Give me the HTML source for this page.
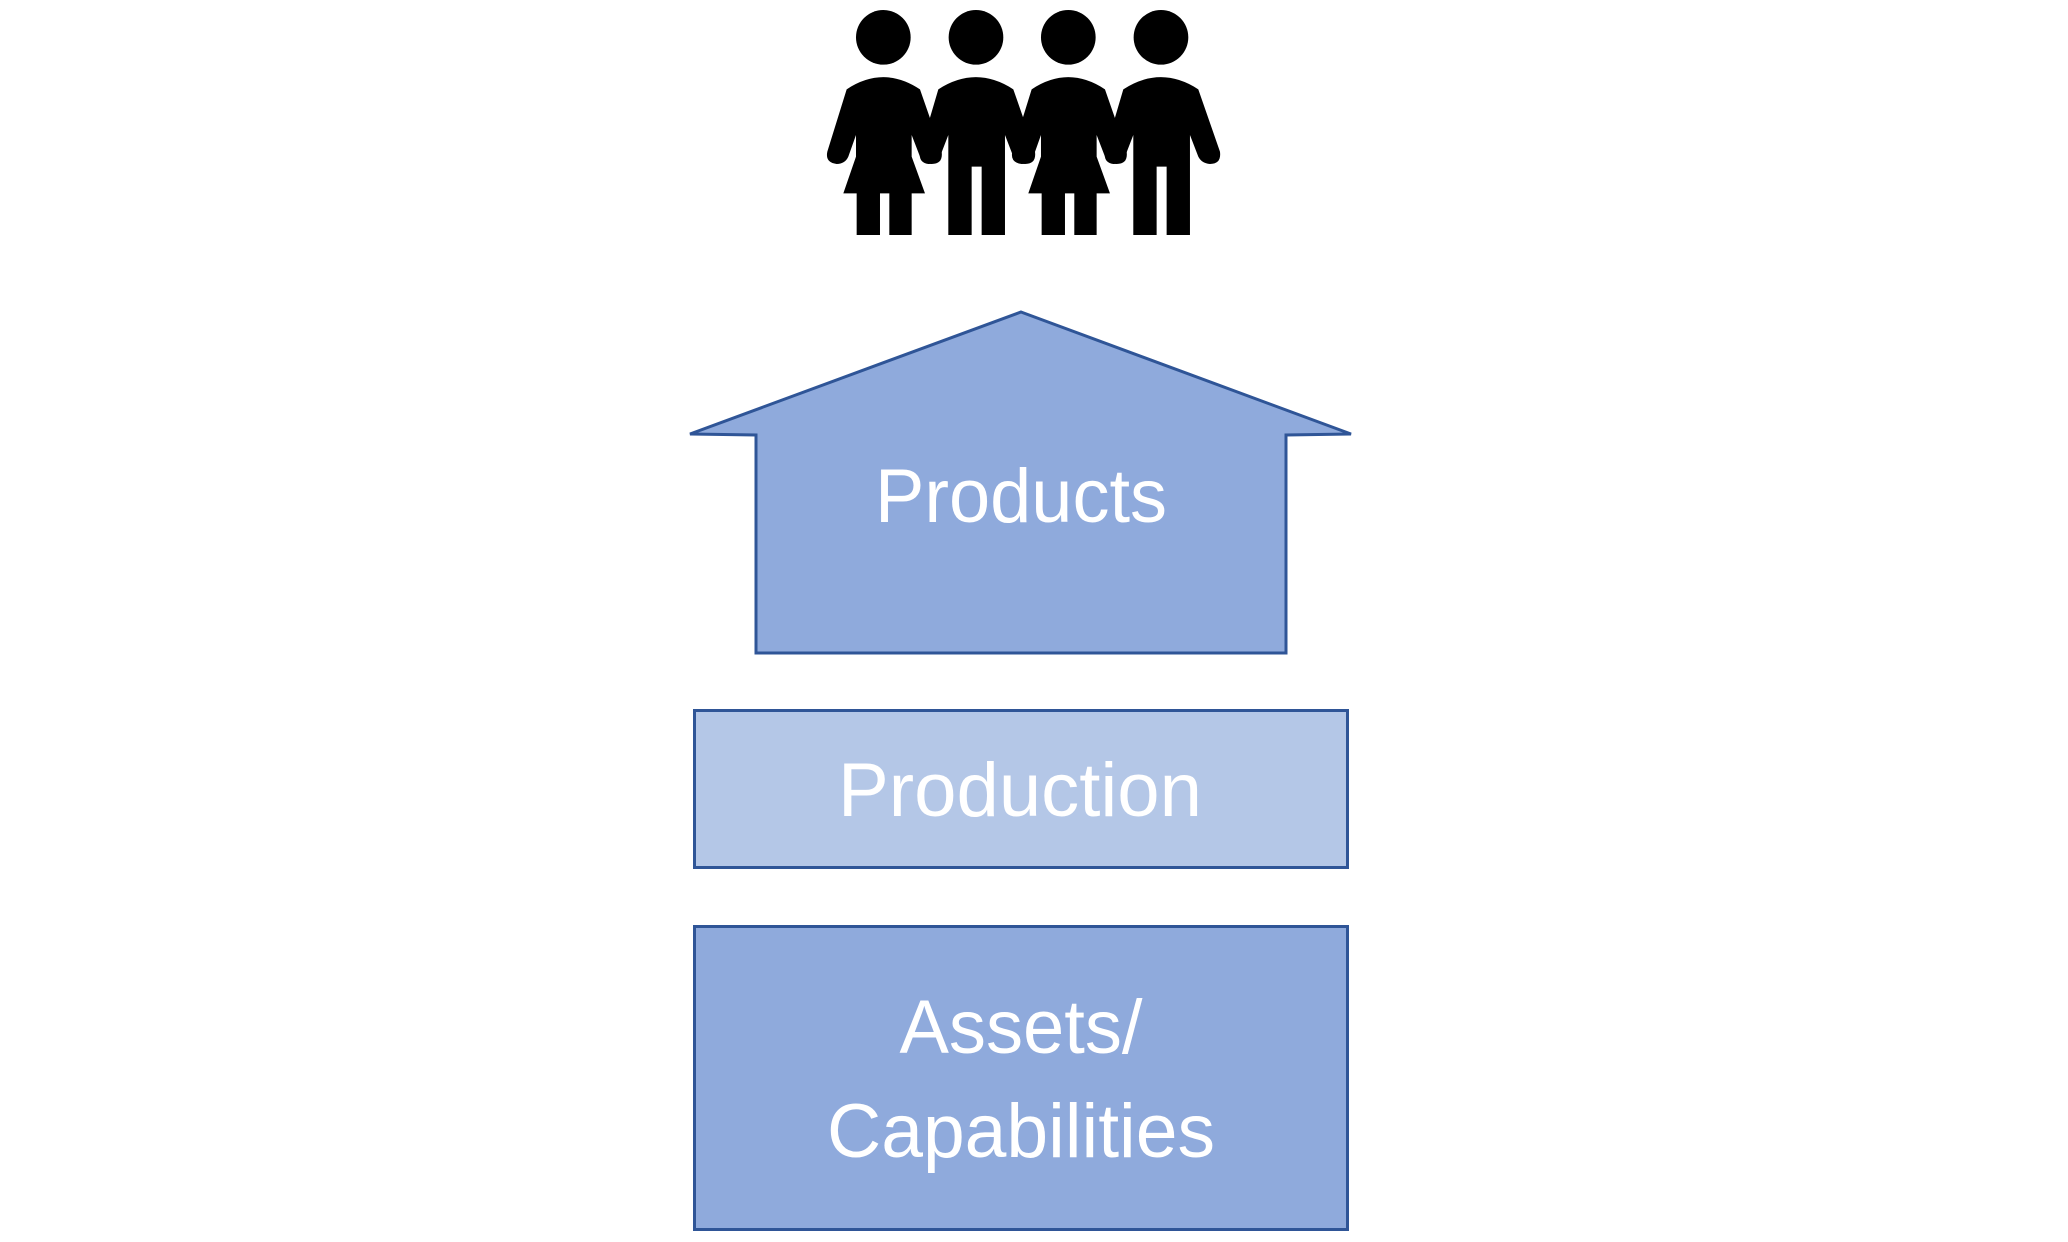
<!DOCTYPE html>
<html><head><meta charset="utf-8"><style>
html,body{margin:0;padding:0;background:#fff;}
svg{display:block;}
</style></head><body>
<svg width="2068" height="1242" viewBox="0 0 2068 1242" xmlns="http://www.w3.org/2000/svg">
<g transform="translate(800,0) scale(0.3333)" fill="#000">
  <circle cx="250" cy="112" r="82"/>
  <circle cx="528" cy="112" r="82"/>
  <circle cx="805" cy="112" r="82"/>
  <circle cx="1083" cy="112" r="82"/>
  <path d="M140,268 Q250,195 360,268 L425,455 Q430,492 395,492 Q370,490 360,470 L335,405 L335,470 L375,580 L335,580 L335,705 L268,705 L268,580 L240,580 L240,705 L170,705 L170,580 L130,580 L168,470 L168,405 L145,470 Q135,492 110,492 Q75,488 82,455 Z"/>
  <path d="M415,268 Q528,195 640,268 L705,455 Q710,492 675,492 Q650,490 640,470 L615,405 L615,705 L545,705 L545,500 L515,500 L515,705 L445,705 L445,405 L420,470 Q410,492 385,492 Q355,488 360,455 Z"/>
  <g transform="translate(555,0)">
  <path d="M140,268 Q250,195 360,268 L425,455 Q430,492 395,492 Q370,490 360,470 L335,405 L335,470 L375,580 L335,580 L335,705 L268,705 L268,580 L240,580 L240,705 L170,705 L170,580 L130,580 L168,470 L168,405 L145,470 Q135,492 110,492 Q75,488 82,455 Z"/>
  <path d="M415,268 Q528,195 640,268 L705,455 Q710,492 675,492 Q650,490 640,470 L615,405 L615,705 L545,705 L545,500 L515,500 L515,705 L445,705 L445,405 L420,470 Q410,492 385,492 Q355,488 360,455 Z"/>
  </g>
</g>
<polygon points="1021,312 1351,434 1286,435 1286,653 756,653 756,435 690,434" fill="#8FAADC" stroke="#2F5597" stroke-width="3" stroke-linejoin="miter"/>
<rect x="694.5" y="710.5" width="653" height="157" fill="#B4C7E7" stroke="#2F5597" stroke-width="3"/>
<rect x="694.5" y="926.5" width="653" height="303" fill="#8FAADC" stroke="#2F5597" stroke-width="3"/>
<g fill="#fff" font-family="Liberation Sans, sans-serif" font-size="76" text-anchor="middle">
  <text x="1021" y="522" textLength="292" lengthAdjust="spacingAndGlyphs">Products</text>
  <text x="1020" y="816" textLength="364" lengthAdjust="spacingAndGlyphs">Production</text>
  <text x="1021" y="1053" textLength="243" lengthAdjust="spacingAndGlyphs">Assets/</text>
  <text x="1021" y="1157" textLength="388" lengthAdjust="spacingAndGlyphs">Capabilities</text>
</g>
</svg>
</body></html>
